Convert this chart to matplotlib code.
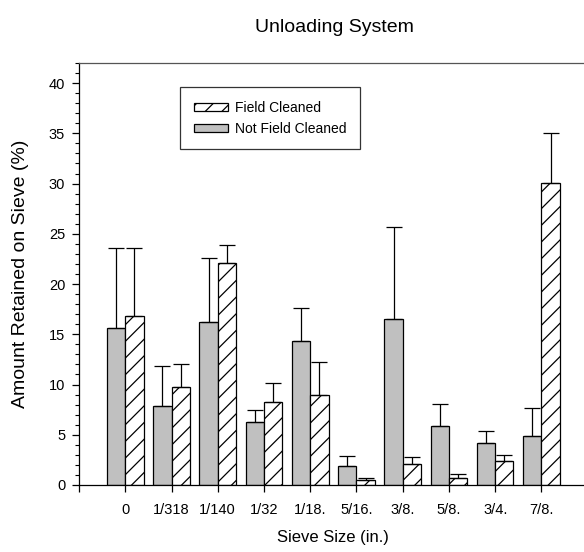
import numpy as np
import matplotlib.pyplot as plt
from matplotlib.ticker import MultipleLocator

plt.rcParams['font.family'] = ['Liberation Sans', 'DejaVu Sans']
plt.rcParams['hatch.linewidth'] = 0.9

sieve_sizes = ['0', '1/318', '1/140', '1/32', '1/18.', '5/16.', '3/8.', '5/8.', '3/4.', '7/8.']
not_cleaned = [15.6, 7.86, 16.2, 6.27, 14.3, 1.86, 16.5, 5.84, 4.21, 4.84]
not_cleaned_err = [8.0, 4.01, 6.4, 1.19, 3.3, 0.99, 9.2, 2.25, 1.19, 2.86]
field_cleaned = [16.85, 9.75, 22.1, 8.26, 9.0, 0.47, 2.09, 0.66, 2.36, 30.05]
field_cleaned_err = [6.75, 2.25, 1.75, 1.94, 3.2, 0.26, 0.7, 0.4, 0.64, 4.95]

fig = plt.figure(figsize=(5.84, 5.52), dpi=100)
ax = fig.add_axes([0.1353, 0.1214, 0.8647, 0.7645])

x = np.arange(len(sieve_sizes))
w = 0.395
err_kw = dict(elinewidth=0.9, capsize=5.5, capthick=0.9, ecolor='black')
ax.bar(x - w / 2, not_cleaned, w, yerr=[np.zeros(len(x)), not_cleaned_err],
       color='#c0c0c0', edgecolor='black', linewidth=0.9, error_kw=err_kw,
       label='Not Field Cleaned')
ax.bar(x + w / 2, field_cleaned, w, yerr=[np.zeros(len(x)), field_cleaned_err],
       color='white', edgecolor='black', linewidth=0.9, hatch='//', error_kw=err_kw,
       label='Field Cleaned')

ax.set_xlim(-1, 9.92)
ax.set_ylim(0, 42)
ax.set_xticks(np.concatenate([[-1], x]))
ax.set_xticklabels([''] + sieve_sizes)
ax.yaxis.set_major_locator(MultipleLocator(5))
ax.yaxis.set_minor_locator(MultipleLocator(1))
ax.tick_params(axis='both', direction='out', labelsize=10.5, width=0.9, color='black')
ax.tick_params(axis='x', length=5, pad=8)
ax.tick_params(axis='y', which='major', length=5, pad=5)
ax.tick_params(axis='y', which='minor', length=3, width=0.8)
ax.spines['right'].set_visible(False)
for s in ['left', 'bottom', 'top']:
    ax.spines[s].set_linewidth(0.9)
ax.spines['top'].set_color('#555555')

ax.set_ylabel('Amount Retained on Sieve (%)', fontsize=14, labelpad=14)
fig.text(0.570, 0.027, 'Sieve Size (in.)', ha='center', va='center', fontsize=12)
fig.text(0.572, 0.951, 'Unloading System', ha='center', va='center', fontsize=14)

handles, labels = ax.get_legend_handles_labels()
leg = ax.legend(handles[::-1], labels[::-1], loc='upper left',
                bbox_to_anchor=(0.200, 0.942), fontsize=10, frameon=True,
                fancybox=False, edgecolor='black', handlelength=2.45,
                handleheight=0.5, handletextpad=0.5, borderpad=1.0,
                labelspacing=0.45, borderaxespad=0)
leg.get_frame().set_linewidth(0.9)

fig.savefig('out.png', dpi=100)
